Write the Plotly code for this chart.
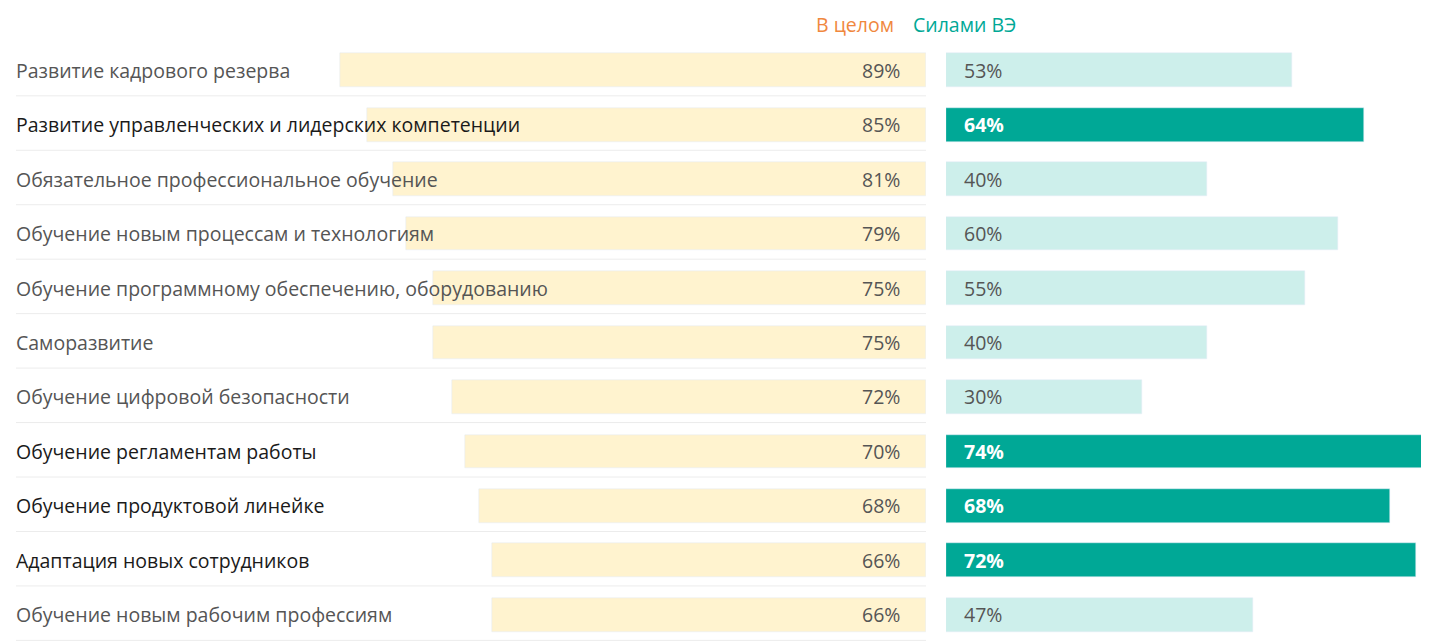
import plotly.graph_objects as go

# page body adds ~8px offset, so work in shifted coordinates
OFF = 8
W, H = 1429 - OFF, 644 - OFF

categories = [
    "Развитие кадрового резерва",
    "Развитие управленческих и лидерских компетенции",
    "Обязательное профессиональное обучение",
    "Обучение новым процессам и технологиям",
    "Обучение программному обеспечению, оборудованию",
    "Саморазвитие",
    "Обучение цифровой безопасности",
    "Обучение регламентам работы",
    "Обучение продуктовой линейке",
    "Адаптация новых сотрудников",
    "Обучение новым рабочим профессиям",
]
overall = [89, 85, 81, 79, 75, 75, 72, 70, 68, 66, 66]
own = [53, 64, 40, 60, 55, 40, 30, 74, 68, 72, 47]
highlight = [False, True, False, False, False, False, False, True, True, True, False]

FONT = "Open Sans"
ys = list(range(len(categories)))
own_colors = ["#00A896" if h else "#CDEFEB" for h in highlight]


def px(x):
    return (x - OFF) / W


T, B = 43 - OFF, 2
fig = go.Figure()
fig.add_trace(go.Bar(x=overall, y=ys, orientation="h", marker_color="#FFF3CF",
                     width=0.62, xaxis="x", yaxis="y", hoverinfo="skip"))
fig.add_trace(go.Bar(x=own, y=ys, orientation="h", marker_color=own_colors,
                     width=0.62, xaxis="x2", yaxis="y", hoverinfo="skip"))

ann = []
shapes = []
for i, (c, o, s, h) in enumerate(zip(categories, overall, own, highlight)):
    ann.append(dict(x=px(14), y=i, xref="paper", yref="y", text=c, showarrow=False,
                    xanchor="left", font=dict(size=19.5, color="#1a1a1a" if h else "#555555", family=FONT)))
    ann.append(dict(x=px(902), y=i, xref="paper", yref="y", text=f"{o}%", showarrow=False,
                    xanchor="right", font=dict(size=19.5, color="#555555", family=FONT)))
    ann.append(dict(x=px(962), y=i, xref="paper", yref="y",
                    text=f"<b>{s}%</b>" if h else f"{s}%", showarrow=False, xanchor="left",
                    font=dict(size=19.5, color="white" if h else "#555555", family=FONT)))
    shapes.append(dict(type="line", xref="paper", yref="y", x0=px(16), x1=px(926),
                       y0=i + 0.47, y1=i + 0.47, line=dict(color="#ececec", width=1), layer="below"))

plot_h = H - T - B
head_y = 1 + (43 - 25) / plot_h
ann.append(dict(x=px(855), y=head_y, xref="paper", yref="paper", text="В целом", showarrow=False,
                yanchor="middle", font=dict(size=19.5, color="#F0883E", family=FONT)))
ann.append(dict(x=px(1018), y=head_y, xref="paper", yref="paper", text="Силами ВЭ", showarrow=False,
                yanchor="middle", font=dict(size=19.5, color="#00A896", family=FONT)))

fig.update_layout(
    width=W, height=H, margin=dict(l=0, r=0, t=T, b=B),
    paper_bgcolor="white", plot_bgcolor="white", showlegend=False,
    xaxis=dict(domain=[0, px(926)], range=[(926 - OFF) / 6.58, 0], visible=False, fixedrange=True),
    xaxis2=dict(domain=[px(946), 1], range=[0, (W - (946 - OFF)) / 6.53], visible=False, fixedrange=True),
    yaxis=dict(range=[len(categories) - 0.5, -0.5], visible=False, fixedrange=True),
    annotations=ann, shapes=shapes, bargap=0,
)

fig.write_html("out.html")
